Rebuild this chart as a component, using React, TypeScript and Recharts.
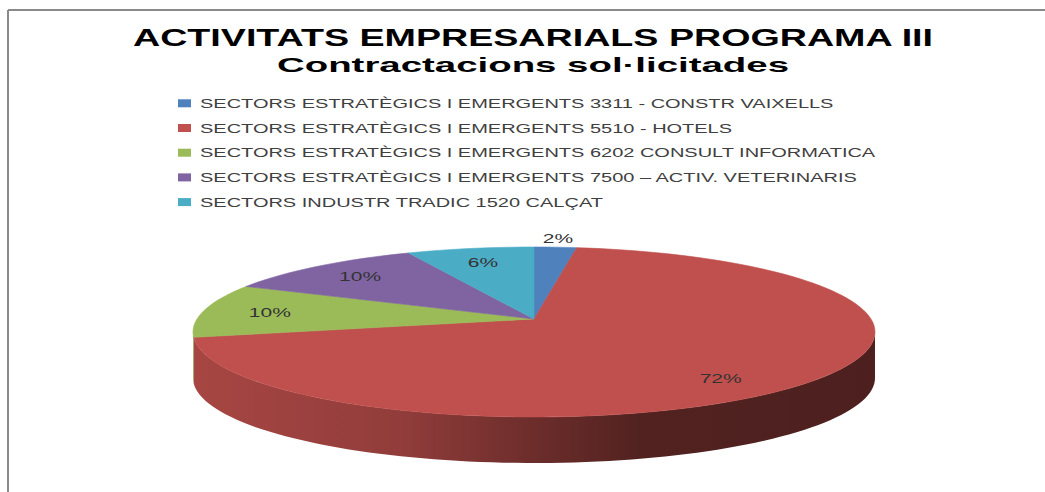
import { PieChart, Pie, Cell, Legend } from "recharts"

// Dades del gràfic
const categories = [
  "SECTORS ESTRATÈGICS I EMERGENTS 3311 - CONSTR VAIXELLS",
  "SECTORS ESTRATÈGICS I EMERGENTS 5510 - HOTELS",
  "SECTORS ESTRATÈGICS I EMERGENTS 6202 CONSULT INFORMATICA",
  "SECTORS ESTRATÈGICS I EMERGENTS 7500 – ACTIV. VETERINARIS",
  "SECTORS INDUSTR TRADIC 1520 CALÇAT",
]
const values = [2, 72, 10, 10, 6]
const colors = ["#4f81bd", "#c0504d", "#9bbb59", "#8064a2", "#4bacc6"]
const titleLines = ["ACTIVITATS EMPRESARIALS PROGRAMA III", "Contractacions sol·licitades"]

const data = categories.map((name, i) => ({ name, value: values[i] }))

// geometria del pastís 3D
const CX = 534
const CY = 332
const RX = 341
const TILT = 85 / 341
const DEPTH = 46
const LIFT = 13
const STRETCH = 1.6

const RAD = Math.PI / 180

function shade(hex: string, k: number) {
  const n = parseInt(hex.slice(1), 16)
  const r = Math.round(((n >> 16) & 255) * k)
  const g = Math.round(((n >> 8) & 255) * k)
  const b = Math.round((n & 255) * k)
  return `rgb(${r},${g},${b})`
}

function arcPoints(cx: number, cy: number, rx: number, ry: number, a0: number, a1: number, dy = 0) {
  const steps = Math.max(2, Math.ceil(Math.abs(a1 - a0) / 2))
  const pts: [number, number][] = []
  for (let s = 0; s <= steps; s++) {
    const a = (a0 + ((a1 - a0) * s) / steps) * RAD
    pts.push([cx + rx * Math.cos(a), cy - ry * Math.sin(a) + dy])
  }
  return pts
}

const TopSlice = (props: any) => {
  const { cx, cy, outerRadius, startAngle, endAngle, fill } = props
  const pts = arcPoints(cx, cy, outerRadius, outerRadius * TILT, startAngle, endAngle)
  const d = `M${cx},${cy - LIFT} ` + pts.map((p) => `L${p[0].toFixed(2)},${p[1].toFixed(2)}`).join(" ") + " Z"
  return <path d={d} fill={fill} stroke={fill} strokeWidth={0.6} />
}

const WallSlice = (props: any) => {
  const { cx, cy, outerRadius, startAngle, endAngle, fill, index } = props
  const ry = outerRadius * TILT
  const lo = Math.min(startAngle, endAngle)
  const hi = Math.max(startAngle, endAngle)
  const segs: [number, number][] = []
  for (const k of [-720, -360, 0, 360]) {
    const a = Math.max(lo, -180 + k)
    const b = Math.min(hi, k)
    if (b > a) segs.push([a, b])
  }
  const id = `wall-${index}`
  return (
    <g>
      <defs>
        <linearGradient id={id} gradientUnits="userSpaceOnUse" x1={cx - outerRadius} y1={0} x2={cx + outerRadius} y2={0}>
          <stop offset="0" stopColor={shade(fill, 0.87)} />
          <stop offset="0.3" stopColor={shade(fill, 0.76)} />
          <stop offset="0.5" stopColor={shade(fill, 0.56)} />
          <stop offset="0.66" stopColor={shade(fill, 0.42)} />
          <stop offset="1" stopColor={shade(fill, 0.4)} />
        </linearGradient>
      </defs>
      {segs.map(([a, b], j) => {
        const top = arcPoints(cx, cy, outerRadius, ry, a, b)
        const bottom = arcPoints(cx, cy, outerRadius, ry, b, a, DEPTH)
        const d = [...top, ...bottom].map((p, i) => `${i ? "L" : "M"}${p[0].toFixed(2)},${p[1].toFixed(2)}`).join(" ") + " Z"
        return <path key={j} d={d} fill={`url(#${id})`} />
      })}
    </g>
  )
}

const renderLabel = (props: any) => {
  const { cx, cy, outerRadius, midAngle, percent } = props
  const ry = outerRadius * TILT
  const ex = cx + outerRadius * Math.cos(midAngle * RAD)
  const ey = cy - ry * Math.sin(midAngle * RAD)
  const ax = cx
  const ay = cy - LIFT
  const f = percent < 0.03 ? 1.12 : 0.8
  const x = ax + (ex - ax) * f
  const y = ay + (ey - ay) * f + 4
  return (
    <text
      x={0}
      y={0}
      transform={`translate(${x.toFixed(1)},${y.toFixed(1)}) scale(1.75,1)`}
      textAnchor="middle"
      fontFamily="Liberation Sans, Arial, sans-serif"
      fontSize={12}
      fill="#333"
    >
      {`${Math.round(percent * 100)}%`}
    </text>
  )
}

const renderLegend = () => (
  <svg width={1045} height={225} style={{ display: "block" }}>
    {categories.map((name, i) => {
      const yc = 103.3 + i * 24.7
      return (
        <g key={name}>
          <rect x={178} y={yc - 4} width={13} height={8} fill={colors[i]} />
          <text
            x={0}
            y={0}
            transform={`translate(200,${(yc + 4.5).toFixed(1)}) scale(${STRETCH},1)`}
            fontFamily="Liberation Sans, Arial, sans-serif"
            fontSize={12.5}
            fill="#404040"
          >
            {name}
          </text>
        </g>
      )
    })}
  </svg>
)

export default function App() {
  return (
    <div style={{ position: "absolute", left: 0, top: 0, width: 1045, height: 492, background: "#fff", overflow: "hidden" }}>
      <PieChart width={1045} height={492} margin={{ top: 0, right: 0, bottom: 0, left: 0 }}>
        <Pie
          data={data}
          dataKey="value"
          nameKey="name"
          cx={CX}
          cy={CY}
          outerRadius={RX}
          startAngle={90}
          endAngle={-270}
          shape={WallSlice}
          legendType="none"
          label={false}
          isAnimationActive={false}
        >
          {data.map((_, i) => (
            <Cell key={i} fill={colors[i]} />
          ))}
        </Pie>
        <Pie
          data={data}
          dataKey="value"
          nameKey="name"
          cx={CX}
          cy={CY}
          outerRadius={RX}
          startAngle={90}
          endAngle={-270}
          shape={TopSlice}
          label={renderLabel}
          labelLine={false}
          isAnimationActive={false}
        >
          {data.map((_, i) => (
            <Cell key={i} fill={colors[i]} />
          ))}
        </Pie>
        <Legend content={renderLegend} wrapperStyle={{ position: "absolute", top: 0, left: 0, width: 1045, height: 225 }} />
      </PieChart>
      <svg width={1045} height={492} style={{ position: "absolute", left: 0, top: 0, pointerEvents: "none" }}>
        <line x1={8} y1={10} x2={1045} y2={10} stroke="#8a8a8a" strokeWidth={2} />
        <line x1={8} y1={10} x2={8} y2={492} stroke="#8a8a8a" strokeWidth={2} />
        <text
          x={533}
          y={46}
          textAnchor="middle"
          textLength={800}
          lengthAdjust="spacingAndGlyphs"
          fontFamily="Liberation Sans, Arial, sans-serif"
          fontWeight="bold"
          fontSize={24}
          fill="#000"
        >
          {titleLines[0]}
        </text>
        <text
          x={533}
          y={72}
          textAnchor="middle"
          textLength={512}
          lengthAdjust="spacingAndGlyphs"
          fontFamily="Liberation Sans, Arial, sans-serif"
          fontWeight="bold"
          fontSize={21}
          fill="#000"
        >
          {titleLines[1]}
        </text>
      </svg>
    </div>
  )
}
